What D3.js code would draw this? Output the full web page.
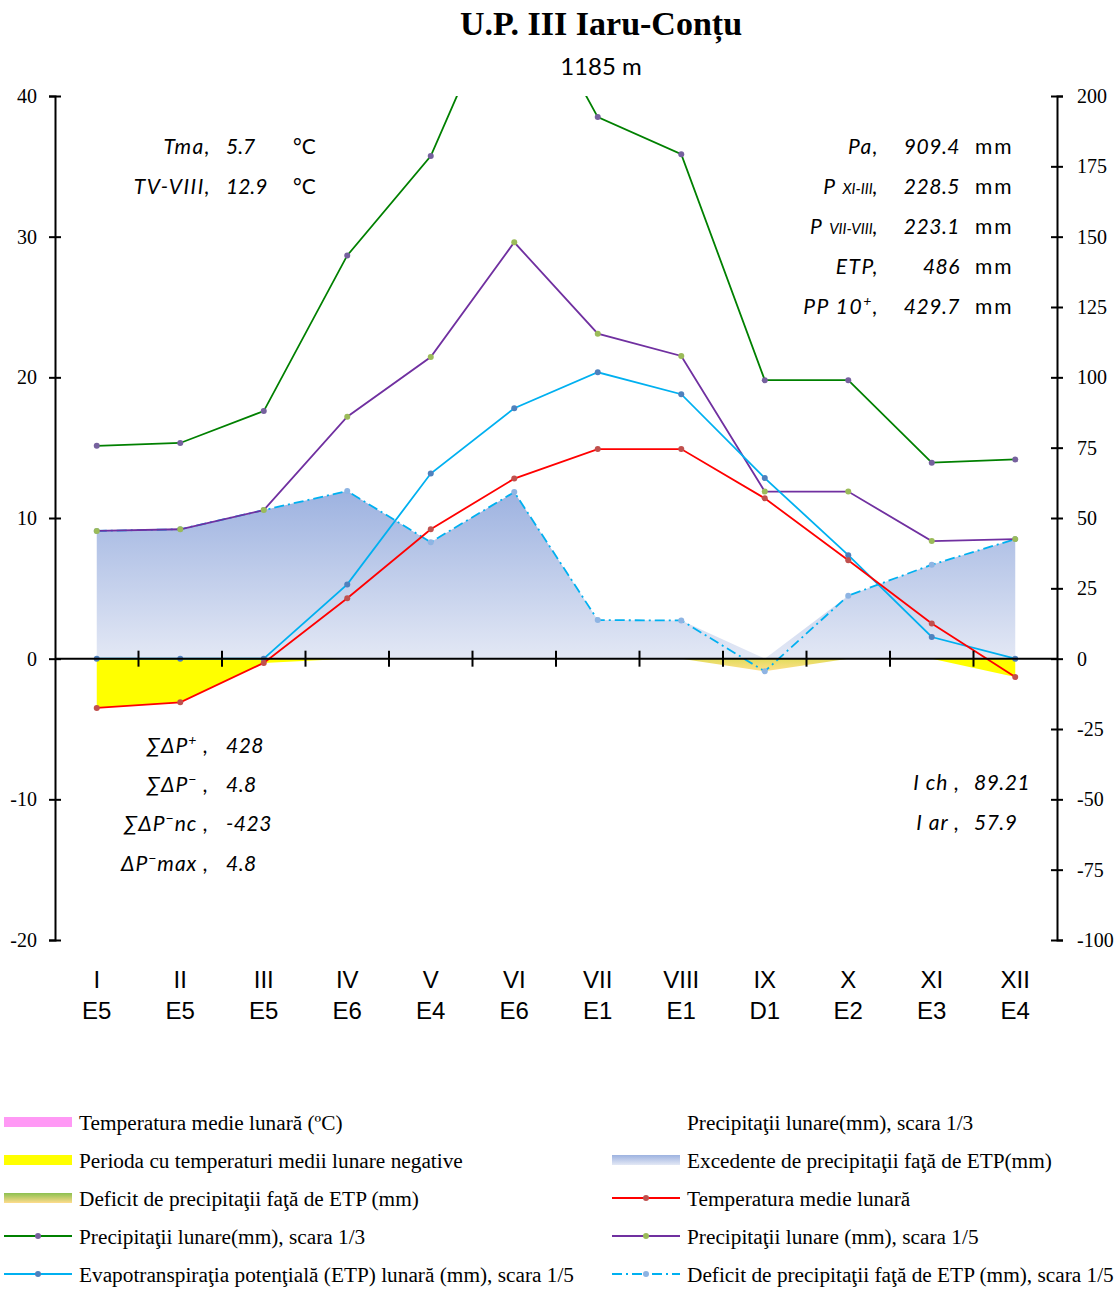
<!DOCTYPE html>
<html>
<head>
<meta charset="utf-8">
<script src="https://cdn.jsdelivr.net/npm/d3@7"></script>
<style>
body { margin: 0; background: #fff; }
svg text { fill: #000; }
</style>
</head>
<body>
<div id="chart"></div>
<script>
// monthly values
var months = ["I", "II", "III", "IV", "V", "VI", "VII", "VIII", "IX", "X", "XI", "XII"];
var codes = ["E5", "E5", "E5", "E6", "E4", "E6", "E1", "E1", "D1", "E2", "E3", "E4"];
var temp = [-3.5, -3.1, -0.3, 4.3, 9.2, 12.8, 14.9, 14.9, 11.4, 7.0, 2.5, -1.3];
var precip = [45.4, 46.0, 52.8, 86.0, 107.2, 148.0, 115.5, 107.6, 59.4, 59.4, 41.8, 42.5];
var etp = [0, 0, 0, 26.4, 65.8, 89.0, 101.8, 94.0, 64.2, 36.8, 7.7, 0];
var diff = [45.4, 46.0, 52.8, 59.6, 41.4, 59.2, 13.7, 13.6, -4.5, 22.4, 33.4, 42.5];
var leftTicks = [-20, -10, 0, 10, 20, 30, 40];
var rightTicks = [-100, -75, -50, -25, 0, 25, 50, 75, 100, 125, 150, 175, 200];

var width = 1119, height = 1289;
var margin = {top: 96, right: 1057, bottom: 940, left: 55};

var svg = d3.select("#chart")
  .append("svg")
    .attr("width", width)
    .attr("height", height);

var x = d3.scaleBand().domain(months).range([margin.left, margin.right]);
var xc = function(i) { return x(months[i]) + x.bandwidth() / 2; };
var yL = d3.scaleLinear().domain([-20, 40]).range([margin.bottom, margin.top]);
var yR = d3.scaleLinear().domain([-100, 200]).range([margin.bottom, margin.top]);

var defs = svg.append("defs");
defs.append("clipPath").attr("id", "plot")
  .append("rect").attr("x", margin.left).attr("y", margin.top)
  .attr("width", margin.right - margin.left).attr("height", margin.bottom - margin.top);

var g1 = defs.append("linearGradient").attr("id", "excess")
  .attr("x1", 0).attr("y1", 0).attr("x2", 0).attr("y2", 1);
g1.append("stop").attr("offset", "0%").attr("stop-color", "#9db2e0");
g1.append("stop").attr("offset", "100%").attr("stop-color", "#e3e8f5");

var g2 = defs.append("linearGradient").attr("id", "deficit")
  .attr("x1", 0).attr("y1", 0).attr("x2", 0).attr("y2", 1);
g2.append("stop").attr("offset", "0%").attr("stop-color", "#e2dc5c");
g2.append("stop").attr("offset", "100%").attr("stop-color", "#ffdf8c");

var g3 = defs.append("linearGradient").attr("id", "defLeg")
  .attr("x1", 0).attr("y1", 0).attr("x2", 0).attr("y2", 1);
g3.append("stop").attr("offset", "0%").attr("stop-color", "#8cc050");
g3.append("stop").attr("offset", "100%").attr("stop-color", "#ffdc8c");

// title
svg.append("text")
  .attr("x", 601).attr("y", 35)
  .attr("text-anchor", "middle")
  .style("font-family", "Liberation Serif, serif")
  .style("font-weight", "bold")
  .style("font-size", "34px")
  .text("U.P. III Iaru-Conțu");
svg.append("text")
  .attr("x", 601).attr("y", 75)
  .attr("text-anchor", "middle")
  .style("font-family", "Lato, sans-serif")
  .style("font-size", "24px")
  .text("1185 m");

var plot = svg.append("g").attr("clip-path", "url(#plot)");

// areas
plot.append("path")
  .datum(diff)
  .attr("fill", "url(#excess)")
  .attr("d", d3.area()
    .x(function(d, i) { return xc(i); })
    .y0(yR(0))
    .y1(function(d) { return yR(Math.max(0, d)); }));

plot.append("path")
  .datum(diff)
  .attr("fill", "url(#deficit)")
  .attr("d", d3.area()
    .x(function(d, i) { return xc(i); })
    .y0(yR(0))
    .y1(function(d) { return yR(Math.min(0, d)); }));

plot.append("path")
  .datum(temp)
  .attr("fill", "#ffff00")
  .attr("d", d3.area()
    .x(function(d, i) { return xc(i); })
    .y0(yL(0))
    .y1(function(d) { return yL(Math.min(0, d)); }));

// axes
var plain = function(d) { return String(d); };
var axL = svg.append("g")
  .attr("transform", "translate(" + margin.left + ",0)")
  .call(d3.axisLeft(yL).tickValues(leftTicks).tickFormat(plain)
    .tickSizeOuter(0).tickSize(6).tickPadding(12));
axL.selectAll(".tick line").attr("x1", 6);
var axR = svg.append("g")
  .attr("transform", "translate(" + margin.right + ",0)")
  .call(d3.axisRight(yR).tickValues(rightTicks).tickFormat(plain)
    .tickSizeOuter(0).tickSize(6).tickPadding(14));
axR.selectAll(".tick line").attr("x1", -6);
[axL, axR].forEach(function(a) {
  a.select(".domain").attr("stroke-width", 2);
  a.selectAll(".tick line").attr("stroke-width", 2);
  a.selectAll("text")
    .style("font-family", "Liberation Serif, serif")
    .style("font-size", "20px");
});

svg.append("line")
  .attr("x1", margin.left).attr("x2", margin.right)
  .attr("y1", yL(0)).attr("y2", yL(0))
  .attr("stroke", "#000").attr("stroke-width", 2);
svg.selectAll(".xtick")
  .data(months.slice(1))
  .enter().append("line")
    .attr("x1", function(d) { return x(d); })
    .attr("x2", function(d) { return x(d); })
    .attr("y1", yL(0) - 8).attr("y2", yL(0) + 8)
    .attr("stroke", "#000").attr("stroke-width", 2);

svg.selectAll(".mlab")
  .data(months)
  .enter().append("text")
    .attr("x", function(d, i) { return xc(i); })
    .attr("y", 988)
    .attr("text-anchor", "middle")
    .style("font-family", "Liberation Sans, sans-serif")
    .style("font-size", "24px")
    .text(function(d) { return d; });
svg.selectAll(".clab")
  .data(codes)
  .enter().append("text")
    .attr("x", function(d, i) { return xc(i); })
    .attr("y", 1019)
    .attr("text-anchor", "middle")
    .style("font-family", "Liberation Sans, sans-serif")
    .style("font-size", "24px")
    .text(function(d) { return d; });

// lines
var drawSeries = function(data, yf, color, marker, dash) {
  plot.append("path")
    .datum(data)
    .attr("fill", "none")
    .attr("stroke", color)
    .attr("stroke-width", 1.8)
    .attr("stroke-dasharray", dash)
    .attr("d", d3.line()
      .x(function(d, i) { return xc(i); })
      .y(yf));
  plot.selectAll(null)
    .data(data)
    .enter().append("circle")
      .attr("cx", function(d, i) { return xc(i); })
      .attr("cy", yf)
      .attr("r", 3)
      .attr("fill", marker);
};

drawSeries(diff, function(d) { return yR(d); }, "#00b0f0", "#8eb4e3", "10,4,2,4");
drawSeries(precip, function(d) { return yL(d / 3); }, "#008000", "#76619e", null);
drawSeries(precip, function(d) { return yR(d); }, "#7030a0", "#9bbb59", null);
drawSeries(etp, function(d) { return yR(d); }, "#00b0f0", "#4f81bd", null);
drawSeries(temp, function(d) { return yL(d); }, "#ff0000", "#c0504d", null);

// annotations
var note = function(xp, yp, anchor, parts, ls) {
  var t = svg.append("text")
    .attr("x", xp).attr("y", yp)
    .attr("text-anchor", anchor)
    .style("font-family", "Lato, sans-serif")
    .style("font-size", "21px")
    .style("font-style", "italic")
    .style("letter-spacing", (ls || 0) + "px");
  parts.forEach(function(p) {
    var s = t.append("tspan").text(p[0]);
    if (p[1] == "sub") s.style("font-size", "15px").style("letter-spacing", "0px");
    if (p[1] == "sup") s.style("font-size", "14px").attr("dy", -8);
    if (p[1] == "back") s.attr("dy", 8);
  });
  return t;
};

note(211, 154, "end", [["Tma,"]], 1.5);
note(226, 154, "start", [["5.7"]]);
note(211, 194, "end", [["TV-VIII,"]], 1.5);
note(226, 194, "start", [["12.9"]]);
svg.selectAll(".degc")
  .data([154, 194])
  .enter().append("text")
    .attr("x", 293).attr("y", function(d) { return d; })
    .style("font-family", "Lato, sans-serif")
    .style("font-size", "21px")
    .text("°C");

note(879, 154, "end", [["Pa,"]], 1.5);
note(879, 194, "end", [["P "], ["XI-III", "sub"], [","]], 1.5);
note(879, 234, "end", [["P "], ["VII-VIII", "sub"], [","]], 1.5);
note(879, 274, "end", [["ETP,"]], 1.5);
note(879, 314, "end", [["PP 10"], ["+", "sup"], [",", "back"]], 1.5);
var rightVals = ["909.4", "228.5", "223.1", "486", "429.7"];
rightVals.forEach(function(v, i) {
  note(960, 154 + i * 40, "end", [[v]], 0.5);
  svg.append("text")
    .attr("x", 975).attr("y", 154 + i * 40)
    .style("font-family", "Lato, sans-serif")
    .style("font-size", "21px")
    .style("letter-spacing", "2px")
    .text("mm");
});

note(209, 753, "end", [["∑ΔP"], ["+", "sup"], [" ,", "back"]], 1);
note(209, 792, "end", [["∑ΔP"], ["−", "sup"], [" ,", "back"]], 1);
note(209, 831, "end", [["∑ΔP"], ["−", "sup"], ["nc ,", "back"]], 1);
note(209, 871, "end", [["ΔP"], ["−", "sup"], ["max ,", "back"]], 1);
var sumVals = ["428", "4.8", "-423", "4.8"];
sumVals.forEach(function(v, i) {
  note(226, [753, 792, 831, 871][i], "start", [[v]], 0.5);
});

note(960, 790, "end", [["I ch ,"]], 1);
note(960, 830, "end", [["I ar ,"]], 1);
note(974, 790, "start", [["89.21"]], 0.5);
note(974, 830, "start", [["57.9"]], 0.5);

// legend
var legendLeft = [
  {label: "Temperatura medie lunară (ºC)", type: "rect", fill: "#ff99f5"},
  {label: "Perioda cu temperaturi medii lunare negative", type: "rect", fill: "#ffff00"},
  {label: "Deficit de precipitaţii faţă de ETP (mm)", type: "rect", fill: "url(#defLeg)"},
  {label: "Precipitaţii lunare(mm), scara 1/3", type: "line", stroke: "#008000", marker: "#76619e"},
  {label: "Evapotranspiraţia potenţială (ETP) lunară (mm), scara 1/5", type: "line", stroke: "#00b0f0", marker: "#4f81bd"}
];
var legendRight = [
  {label: "Precipitaţii lunare(mm), scara 1/3", type: "none"},
  {label: "Excedente de precipitaţii faţă de ETP(mm)", type: "rect", fill: "url(#excess)"},
  {label: "Temperatura medie lunară", type: "line", stroke: "#ff0000", marker: "#c0504d"},
  {label: "Precipitaţii lunare (mm), scara 1/5", type: "line", stroke: "#7030a0", marker: "#9bbb59"},
  {label: "Deficit de precipitaţii faţă de ETP (mm), scara 1/5", type: "line", stroke: "#00b0f0", marker: "#8eb4e3", dash: "10,4,2,4"}
];

var drawLegend = function(items, x0) {
  items.forEach(function(it, i) {
    var cy = 1122 + i * 38;
    var g = svg.append("g");
    if (it.type == "rect") {
      g.append("rect").attr("x", x0).attr("y", cy - 5)
        .attr("width", 68).attr("height", 10).attr("fill", it.fill);
    } else if (it.type == "line") {
      g.append("line").attr("x1", x0).attr("x2", x0 + 68)
        .attr("y1", cy).attr("y2", cy)
        .attr("stroke", it.stroke).attr("stroke-width", 2)
        .attr("stroke-dasharray", it.dash || null);
      g.append("circle").attr("cx", x0 + 34).attr("cy", cy).attr("r", 3).attr("fill", it.marker);
    }
    g.append("text")
      .attr("x", x0 + 75).attr("y", cy + 8)
      .style("font-family", "Liberation Serif, serif")
      .style("font-size", "21.3px")
      .text(it.label);
  });
};
drawLegend(legendLeft, 4);
drawLegend(legendRight, 612);
</script>
</body>
</html>
